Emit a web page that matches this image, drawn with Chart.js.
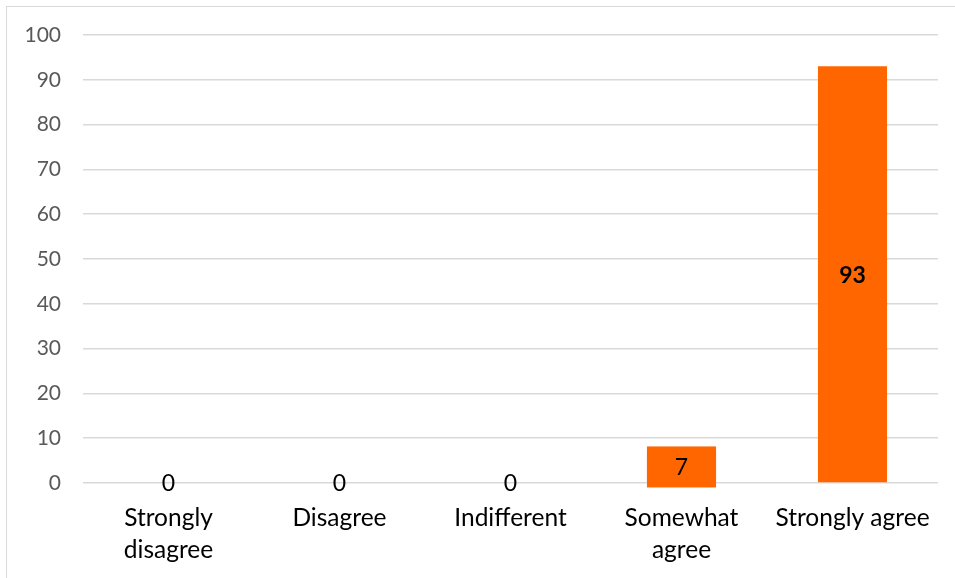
<!DOCTYPE html>
<html>
<head>
<meta charset="utf-8">
<script src="https://cdn.jsdelivr.net/npm/chart.js@4/dist/chart.umd.min.js"></script>
<style>
  html, body { margin: 0; padding: 0; background: #fff; }
  #wrap { position: relative; width: 955px; height: 578px; overflow: hidden; }
  #frame { position: absolute; left: 6px; top: 6px; width: 1000px; height: 1000px;
           border-left: 1px solid #d9d9d9; border-top: 1px solid #d9d9d9; box-sizing: border-box; }
  canvas { position: absolute; left: 0; top: 0; }
</style>
</head>
<body>
<div id="wrap">
  <div id="frame"></div>
  <canvas id="chart" width="955" height="578"></canvas>
</div>
<script>
// Survey responses (percent)
const categories = [["Strongly", "disagree"], "Disagree", "Indifferent", ["Somewhat", "agree"], "Strongly agree"];
const responses = [0, 0, 0, 7, 93];
const yTicks = [0, 10, 20, 30, 40, 50, 60, 70, 80, 90, 100];

const ORANGE = '#FF6600';
const FONT = 'Lato, "Open Sans", sans-serif';

// Value labels: centred on each bar; short bars get a filled box behind the label
const valueLabels = {
  id: 'valueLabels',
  afterDatasetsDraw(chart) {
    const ctx = chart.ctx;
    const meta = chart.getDatasetMeta(0);
    meta.data.forEach((bar, i) => {
      const v = responses[i];
      const cx = bar.x;
      const cy = (bar.y + bar.base) / 2;
      const boxH = 41;
      ctx.save();
      if (v > 0 && Math.abs(bar.base - bar.y) < boxH) {
        ctx.fillStyle = ORANGE;
        ctx.fillRect(cx - bar.width / 2, cy - boxH / 2, bar.width, boxH);
      }
      ctx.fillStyle = '#000';
      ctx.textAlign = 'center';
      ctx.textBaseline = 'middle';
      ctx.font = (v >= 50 ? 'bold ' : '') + '23px ' + FONT;
      ctx.fillText(String(v), cx, cy + 1);
      ctx.restore();
    });
  }
};

new Chart(document.getElementById('chart'), {
  type: 'bar',
  data: {
    labels: categories,
    datasets: [{
      data: responses,
      backgroundColor: ORANGE,
      borderWidth: 0,
      categoryPercentage: 1,
      barPercentage: 0.404
    }]
  },
  options: {
    responsive: false,
    animation: false,
    layout: { padding: { top: 35, right: 17, left: 0, bottom: 0 } },
    plugins: { legend: { display: false }, tooltip: { enabled: false } },
    scales: {
      x: {
        grid: { display: false },
        border: { display: false },
        ticks: {
          color: '#000',
          font: { family: FONT, size: 24.5, lineHeight: 1.31 },
          padding: 11,
          maxRotation: 0,
          autoSkip: false
        },
        afterFit(s) { s.height = 95; }
      },
      y: {
        min: 0,
        max: 100,
        afterBuildTicks(s) { s.ticks = yTicks.map(v => ({ value: v })); },
        grid: { color: '#d9d9d9', lineWidth: 1.5, drawTicks: false },
        border: { display: false },
        ticks: {
          color: '#595959',
          font: { family: FONT, size: 21 },
          padding: 22
        },
        afterFit(s) { s.width = 83; }
      }
    }
  },
  plugins: [valueLabels]
});
</script>
</body>
</html>
